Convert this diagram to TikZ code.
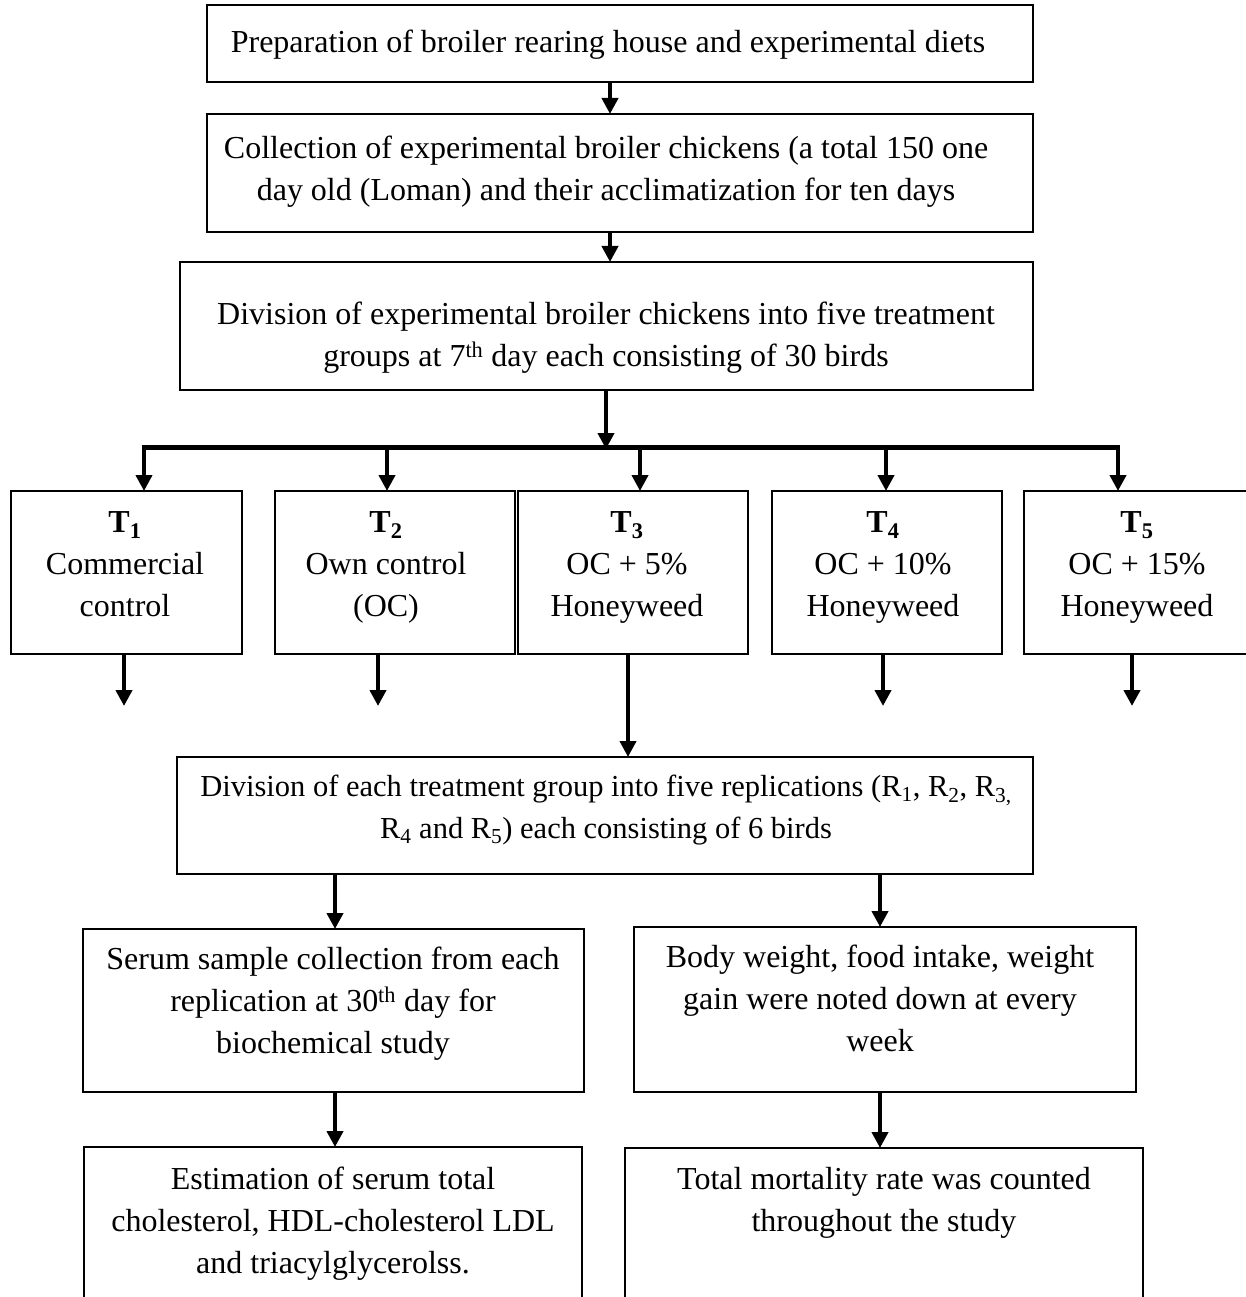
\documentclass[tikz,border=0pt]{standalone}
\usepackage{fontspec}
\setmainfont{Liberation Serif}
\usetikzlibrary{arrows.meta}
\tikzset{
  box/.style={draw, line width=2.2pt, anchor=north west, inner sep=0pt, outer sep=0pt},
  txt/.style={align=center, inner sep=0pt, font=\fontsize{32}{42}\selectfont},
  ttxt/.style={txt, anchor=north},
  arr/.style={line width=4.5pt, -{Triangle[width=16pt,length=16pt]}},
  busline/.style={line width=5pt},
}
\newcommand{\bx}[5]{\node[box, minimum width=#4pt, minimum height=#5pt] (#1) at (#2,#3) {};}
\begin{document}
\begin{tikzpicture}[x=1pt,y=-1pt]
\useasboundingbox (0,0) rectangle (1246,1297);
\clip (0,0) rectangle (1246,1297);
% boxes
\bx{b1}{207}{5}{826}{77}
\bx{b2}{207}{114}{826}{118}
\bx{b3}{180}{262}{853}{128}
\bx{T1}{11}{491}{231}{163}
\bx{T2}{275}{491}{240}{163}
\bx{T3}{518}{491}{230}{163}
\bx{T4}{772}{491}{230}{163}
\bx{T5}{1024}{491}{240}{163}
\bx{b4}{177}{757}{856}{117}
\bx{b5}{83}{929}{501}{163}
\bx{b6}{634}{927}{502}{165}
\bx{b7}{84}{1147}{498}{170}
\bx{b8}{625}{1148}{518}{170}
% texts
\node[txt] (x1) at (608,45) {Preparation of broiler rearing house and experimental diets};
\node[txt] (x2) at (606,172) {Collection of experimental broiler chickens (a total 150 one\\day old (Loman) and their acclimatization for ten days};
\node[txt] (x3) at (606,338) {Division of experimental broiler chickens into five treatment\\groups at 7\textsuperscript{th} day each consisting of 30 birds};
\node[ttxt] (xT1) at (125,511) {\textbf{T\textsubscript{1}}\\Commercial\\control};
\node[ttxt] (xT2) at (386,511) {\textbf{T\textsubscript{2}}\\Own control\\(OC)};
\node[ttxt] (xT3) at (627,511) {\textbf{T\textsubscript{3}}\\OC + 5\%\\Honeyweed};
\node[ttxt] (xT4) at (883,511) {\textbf{T\textsubscript{4}}\\OC + 10\%\\Honeyweed};
\node[ttxt] (xT5) at (1137,511) {\textbf{T\textsubscript{5}}\\OC + 15\%\\Honeyweed};
\node[txt, font=\fontsize{30.5}{42}\selectfont] (x4) at (606,810) {Division of each treatment group into five replications (R\textsubscript{1}, R\textsubscript{2}, R\textsubscript{3,}\\R\textsubscript{4} and R\textsubscript{5}) each consisting of 6 birds};
\node[txt] (x5) at (333,1004) {Serum sample collection from each\\replication at 30\textsuperscript{th} day for\\biochemical study};
\node[txt] (x6) at (880,998) {Body weight, food intake, weight\\gain were noted down at every\\week};
\node[txt] (x7) at (333,1224) {Estimation of serum total\\cholesterol, HDL-cholesterol LDL\\and triacylglycerolss.};
\node[txt] (x8) at (884,1203) {Total mortality rate was counted\\throughout the study};
% helper coordinates
\coordinate (a1) at (610,0);
\coordinate (bus) at (606,447);
\coordinate (d1) at (144,0);
\coordinate (d2) at (387,0);
\coordinate (d3) at (640,0);
\coordinate (d4) at (886,0);
\coordinate (d5) at (1118,0);
\coordinate (e1) at (124,706);
\coordinate (e2) at (378,706);
\coordinate (e4) at (883,706);
\coordinate (e5) at (1132,706);
\coordinate (c3) at (628,0);
\coordinate (cl) at (335,0);
\coordinate (cr) at (880,0);
% connectors
\draw[arr] (b1.south -| a1) -- (b2.north -| a1);
\draw[arr] (b2.south -| a1) -- (b3.north -| a1);
\draw[arr] (b3.south -| bus) -- ([yshift=-2pt]bus);
\draw[busline] ([xshift=-2.25pt]bus -| d1) -- ([xshift=2.25pt]bus -| d5);
\draw[arr] (bus -| d1) -- (T1.north -| d1);
\draw[arr] (bus -| d2) -- (T2.north -| d2);
\draw[arr] (bus -| d3) -- (T3.north -| d3);
\draw[arr] (bus -| d4) -- (T4.north -| d4);
\draw[arr] (bus -| d5) -- (T5.north -| d5);
\draw[arr] (T1.south -| e1) -- (e1);
\draw[arr] (T2.south -| e2) -- (e2);
\draw[arr] (T4.south -| e4) -- (e4);
\draw[arr] (T5.south -| e5) -- (e5);
\draw[arr] (T3.south -| c3) -- (b4.north -| c3);
\draw[arr] (b4.south -| cl) -- (b5.north -| cl);
\draw[arr] (b4.south -| cr) -- (b6.north -| cr);
\draw[arr] (b5.south -| cl) -- (b7.north -| cl);
\draw[arr] (b6.south -| cr) -- (b8.north -| cr);
\end{tikzpicture}
\end{document}
